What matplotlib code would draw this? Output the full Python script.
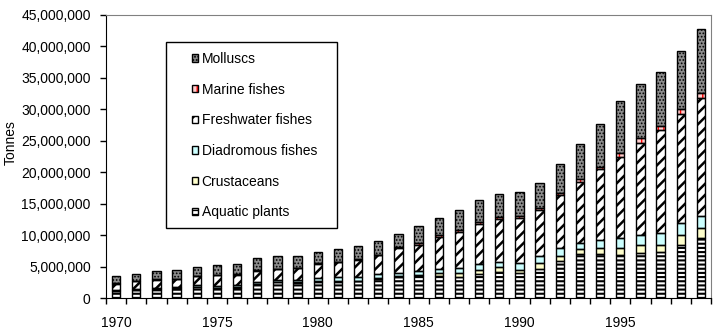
import numpy as np
import matplotlib
matplotlib.use('Agg')
import matplotlib.pyplot as plt
from matplotlib.patches import Patch, Rectangle
from matplotlib.ticker import FuncFormatter

plt.rcParams['font.family'] = ['Liberation Sans', 'DejaVu Sans']
plt.rcParams['font.size'] = 10

years = list(range(1970, 2000))

# production by group, million tonnes
aquatic_plants = [1.10, 1.25, 1.35, 1.50, 1.75, 1.60, 1.65, 2.20, 2.50, 2.45,
                  2.55, 2.60, 2.65, 3.05, 3.30, 3.45, 3.55, 3.40, 3.75, 4.10,
                  3.95, 4.55, 5.85, 7.00, 7.00, 6.85, 7.15, 7.25, 8.50, 9.50]
crustaceans = [0.03, 0.03, 0.04, 0.04, 0.05, 0.05, 0.06, 0.07, 0.08, 0.09,
               0.10, 0.12, 0.13, 0.18, 0.20, 0.25, 0.35, 0.50, 0.70, 0.80,
               0.55, 0.95, 0.90, 0.75, 0.90, 1.05, 1.25, 1.25, 1.50, 1.60]
diadromous_fishes = [0.12, 0.13, 0.15, 0.20, 0.25, 0.30, 0.30, 0.33, 0.32, 0.36,
                     0.50, 0.63, 0.52, 0.57, 0.50, 0.60, 0.65, 0.80, 0.90, 0.90,
                     1.10, 1.20, 1.15, 1.05, 1.40, 1.60, 1.60, 1.80, 1.90, 2.00]
freshwater_fishes = [1.05, 1.30, 1.40, 1.25, 1.45, 1.65, 1.70, 1.75, 1.65, 1.85,
                     2.30, 2.40, 2.80, 3.00, 3.90, 4.20, 5.20, 5.85, 6.35, 6.80,
                     7.20, 7.30, 8.50, 9.60, 11.15, 13.00, 14.70, 16.40, 17.35, 18.65]
marine_fishes = [0.02, 0.02, 0.03, 0.03, 0.03, 0.04, 0.04, 0.05, 0.05, 0.05,
                 0.05, 0.05, 0.05, 0.05, 0.15, 0.20, 0.25, 0.25, 0.40, 0.30,
                 0.20, 0.35, 0.35, 0.45, 0.45, 0.60, 0.70, 0.65, 0.75, 0.80]
molluscs = [1.20, 1.15, 1.33, 1.40, 1.35, 1.60, 1.65, 1.95, 2.10, 1.90,
            1.80, 2.00, 2.10, 2.20, 2.15, 2.75, 2.70, 3.20, 3.50, 3.60,
            3.85, 3.95, 4.55, 5.60, 6.80, 8.20, 8.60, 8.55, 9.20, 10.15]

series = [
    # label, values, face, hatch, hatch colour, hatch width
    ('Aquatic plants', aquatic_plants, 'white', '----', 'black', 1.5),
    ('Crustaceans', crustaceans, '#ffffcc', None, 'black', 1.0),
    ('Diadromous fishes', diadromous_fishes, '#ccffff', None, 'black', 1.0),
    ('Freshwater fishes', freshwater_fishes, 'white', '///', 'black', 1.8),
    ('Marine fishes', marine_fishes, '#ffcccc', '|||', '#ff0000', 1.0),
    ('Molluscs', molluscs, '#8c8c8c', '.....', 'black', 0.8),
]

W, H = 719, 330
fig = plt.figure(figsize=(W / 100, H / 100), dpi=100)
ax = fig.add_axes([106 / W, 1 - 298 / H, (711 - 106) / W, (298 - 15) / H])

x = np.arange(len(years))
width = 0.42
bottom = np.zeros(len(years))
handles = []
for label, vals, face, hatch, hcol, hlw in series:
    v = np.array(vals) * 1e6
    with plt.rc_context({'hatch.linewidth': hlw}):
        ax.bar(x, v, width, bottom=bottom, color=face, edgecolor=hcol,
               hatch=hatch, linewidth=0, zorder=2)
        fill = Patch(facecolor=face, edgecolor=hcol, hatch=hatch, linewidth=0)
    ax.bar(x, v, width, bottom=bottom, fill=False, edgecolor='black',
           linewidth=1, zorder=3)
    edge = Patch(fill=False, edgecolor='black', linewidth=1)
    handles.append(((fill, edge), label))
    bottom += v

ax.set_xlim(-0.5, len(years) - 0.5)
ax.set_ylim(0, 45e6)
ax.set_yticks(np.arange(0, 45e6 + 1, 5e6))
ax.yaxis.set_major_formatter(FuncFormatter(lambda v, p: f'{v:,.0f}'))
ax.tick_params(axis='y', direction='out', length=4, width=1, pad=7)

ax.set_xticks(x[::5])
ax.set_xticklabels([str(y) for y in years[::5]])
ax.set_xticks(np.arange(-0.5, len(years)), minor=True)
ax.tick_params(axis='x', which='major', length=0, pad=13)
ax.tick_params(axis='x', which='minor', direction='out', length=4, width=1)

for s in ['left', 'bottom']:
    ax.spines[s].set_color('black')
for s in ['top', 'right']:
    ax.spines[s].set_color('#808080')

fig.text(11 / W, 1 - 143 / H, 'Tonnes', rotation=90, ha='center', va='center')

handles = handles[::-1]
leg = ax.legend([h for h, _ in handles], [l for _, l in handles],
                loc='upper left', bbox_to_anchor=(192 / W, 1 - 52 / H),
                bbox_transform=fig.transFigure, frameon=False, borderpad=0,
                borderaxespad=0, handlelength=0.45, handleheight=0.45,
                handletextpad=0.25, labelspacing=1.2, fontsize=10)
ax.add_patch(Rectangle((166 / W, 1 - 228 / H), 171 / W, 186 / H,
                       transform=fig.transFigure, fill=False,
                       edgecolor='black', linewidth=1, clip_on=False, zorder=5))

fig.savefig('out.png', dpi=100)
